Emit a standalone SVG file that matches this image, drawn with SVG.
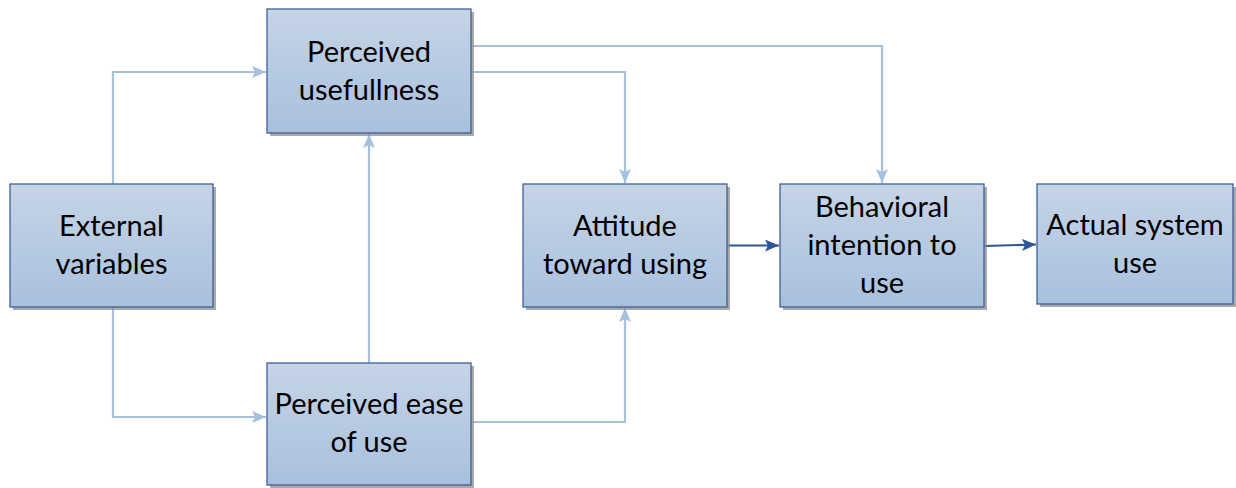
<svg xmlns="http://www.w3.org/2000/svg" width="1236" height="488" viewBox="0 0 1236 488">
  <defs>
    <linearGradient id="boxFill" x1="0" y1="0" x2="0" y2="1">
      <stop offset="0" stop-color="#C6D4E6"/>
      <stop offset="1" stop-color="#A8C0DE"/>
    </linearGradient>
    <marker id="arrLight" viewBox="0 0 14 12" refX="14" refY="6" markerWidth="14" markerHeight="12" markerUnits="userSpaceOnUse" orient="auto">
      <path d="M0,0 L14,6 L0,12 L3,6 z" fill="#A7C0DE"/>
    </marker>
    <marker id="arrDark" viewBox="0 0 14 12" refX="14" refY="6" markerWidth="14" markerHeight="12" markerUnits="userSpaceOnUse" orient="auto">
      <path d="M0,0 L14,6 L0,12 L3,6 z" fill="#2D5794"/>
    </marker>
    <style>
      .shadow { fill: #8E8E8E; opacity: 0.75; }
      .box { fill: url(#boxFill); stroke: #3B6295; stroke-width: 1.3; }
      .label { font-family: Lato, "Liberation Sans", sans-serif; font-size: 29px; fill: #000; text-anchor: middle; }
      .light { fill: none; stroke: #A7C0DE; stroke-width: 2.2; marker-end: url(#arrLight); }
      .dark { fill: none; stroke: #2D5794; stroke-width: 2.2; marker-end: url(#arrDark); }
    </style>
  </defs>

  <!-- connectors -->
  <g id="connectors">
    <path class="light" d="M113,184 V72 H266"/>
    <path class="light" d="M113,307 V417 H266"/>
    <path class="light" d="M369,363 V134"/>
    <path class="light" d="M471,72 H625 V183"/>
    <path class="light" d="M471,46 H882 V183"/>
    <path class="light" d="M471,422 H625 V308"/>
    <path class="dark" d="M727,245.5 H779"/>
    <path class="dark" d="M984,246 L1036,244.5"/>
  </g>

  <g id="external">
    <rect class="shadow" x="13" y="187" width="203" height="123"/>
    <rect class="box" x="10" y="184" width="203" height="123"/>
    <text class="label" x="111.5" y="236">External</text>
    <text class="label" x="111.5" y="274">variables</text>
  </g>

  <g id="usefulness">
    <rect class="shadow" x="270" y="12" width="204" height="124"/>
    <rect class="box" x="267" y="9" width="204" height="124"/>
    <text class="label" x="369" y="62">Perceived</text>
    <text class="label" x="369" y="100">usefullness</text>
  </g>

  <g id="ease">
    <rect class="shadow" x="270" y="366" width="204" height="122"/>
    <rect class="box" x="267" y="363" width="204" height="122"/>
    <text class="label" x="369" y="414">Perceived ease</text>
    <text class="label" x="369" y="452">of use</text>
  </g>

  <g id="attitude">
    <rect class="shadow" x="526" y="187" width="204" height="123"/>
    <rect class="box" x="523" y="184" width="204" height="123"/>
    <text class="label" x="625" y="236">Attitude</text>
    <text class="label" x="625" y="274">toward using</text>
  </g>

  <g id="intention">
    <rect class="shadow" x="783" y="187" width="204" height="123"/>
    <rect class="box" x="780" y="184" width="204" height="123"/>
    <text class="label" x="882" y="217">Behavioral</text>
    <text class="label" x="882" y="255">intention to</text>
    <text class="label" x="882" y="293">use</text>
  </g>

  <g id="actual">
    <rect class="shadow" x="1040" y="187" width="196" height="120"/>
    <rect class="box" x="1037" y="184" width="196" height="120"/>
    <text class="label" x="1135" y="235">Actual system</text>
    <text class="label" x="1135" y="273">use</text>
  </g>
</svg>
